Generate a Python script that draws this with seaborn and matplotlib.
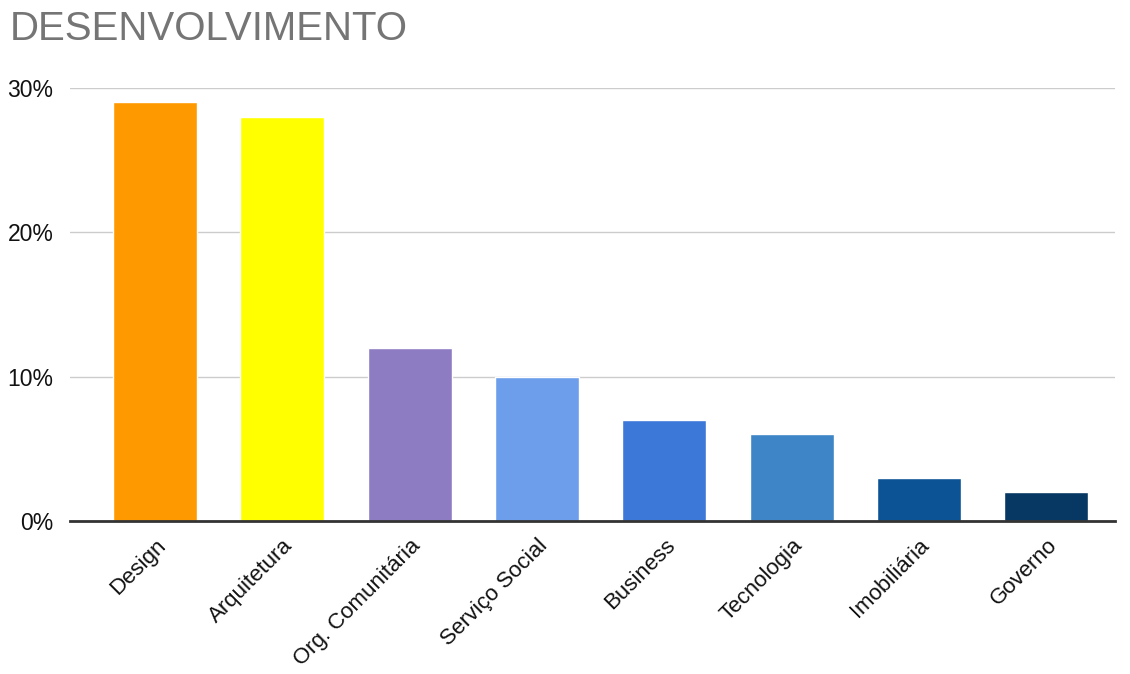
import matplotlib
matplotlib.use("Agg")
import matplotlib.pyplot as plt
import seaborn as sns
import pandas as pd

categories = ["Design", "Arquitetura", "Org. Comunitária", "Serviço Social",
              "Business", "Tecnologia", "Imobiliária", "Governo"]
values = [29, 28, 12, 10, 7, 6, 3, 2]
colors = ["#FF9900", "#FFFF00", "#8E7CC3", "#6D9EEB",
          "#3C78D8", "#3D85C6", "#0B5394", "#073763"]
yticks = [0, 10, 20, 30]
ytick_labels = ["0%", "10%", "20%", "30%"]
title = "DESENVOLVIMENTO"

sns.set_style("white")
plt.rcParams["font.family"] = ["Liberation Sans", "DejaVu Sans"]

df = pd.DataFrame({"cat": categories, "val": values})

W, H = 1130, 674
fig = plt.figure(figsize=(W / 100, H / 100), dpi=100)
ax = fig.add_axes([70 / W, 1 - 521 / H, (1115 - 70) / W, (521 - 88) / H])

sns.barplot(data=df, x="cat", y="val", hue="cat", palette=colors,
            legend=False, width=0.66, ax=ax, saturation=1)

ax.set_xlim(-0.668, 7.54)
ax.set_ylim(0, 30)
ax.set_yticks(yticks)
ax.set_yticklabels(ytick_labels, fontsize=16.5, color="#111111")
ax.yaxis.grid(True, color="#CCCCCC", linewidth=1)
ax.set_axisbelow(True)
for s in ["top", "right", "left"]:
    ax.spines[s].set_visible(False)
ax.spines["bottom"].set_color("#333333")
ax.spines["bottom"].set_linewidth(2)
ax.spines["bottom"].set_zorder(5)
ax.tick_params(axis="both", length=0)
ax.tick_params(axis="y", pad=12)
ax.tick_params(axis="x", pad=10)
ax.set_xlabel("")
ax.set_ylabel("")
for lbl in ax.get_xticklabels():
    lbl.set_rotation(45)
    lbl.set_ha("right")
    lbl.set_rotation_mode("anchor")
    lbl.set_fontsize(16)
    lbl.set_color("#111111")

fig.text(10 / W, 1 - 40 / H, title, fontsize=29, color="#757575",
         ha="left", va="baseline")

fig.savefig("out.png", dpi=100)
